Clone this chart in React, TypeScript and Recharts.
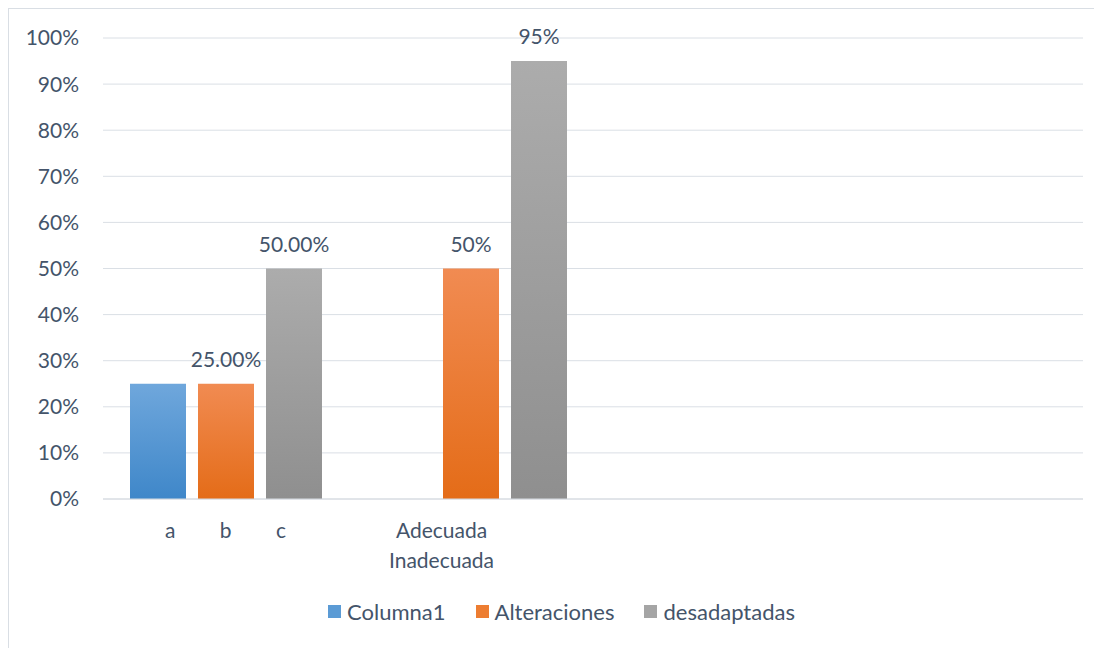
import { Bar, BarChart, CartesianGrid, LabelList, Legend, XAxis, YAxis } from "recharts";

const categories = ["a b c", "Adecuada\nInadecuada", "", " "];
const columna1 = [0.25, null, null, null];
const alteraciones = [0.25, 0.5, null, null];
const desadaptadas = [0.5, 0.95, null, null];
const alteracionesLabels = ["25.00%", "50%", "", ""];
const desadaptadasLabels = ["50.00%", "95%", "", ""];
const yTicks = [0, 0.1, 0.2, 0.3, 0.4, 0.5, 0.6, 0.7, 0.8, 0.9, 1];

const seriesNames = ["Columna1", "Alteraciones", "desadaptadas"];
const seriesColors = ["#5B9BD5", "#ED7D31", "#A5A5A5"];

const data = categories.map((name, i) => ({
  name,
  columna1: columna1[i],
  alteraciones: alteraciones[i],
  desadaptadas: desadaptadas[i],
  altLabel: alteracionesLabels[i],
  desLabel: desadaptadasLabels[i],
}));

const FONT = "Lato, 'Open Sans', sans-serif";
const TEXT = "#44546A";

// Excel shifted the wrapped label a bit left of the category centre
const labelShift: Record<string, number> = { "Adecuada\nInadecuada": -29 };

const CategoryTick = (props: any) => {
  const { x, y, payload } = props;
  const value: string = payload.value;
  const lines = value.split("\n");
  const cx = x + (labelShift[value] || 0);
  return (
    <text
      x={cx}
      y={y}
      textAnchor="middle"
      fill={TEXT}
      fontSize={21}
      fontFamily={FONT}
      style={{ wordSpacing: 39 }}
    >
      {lines.map((l, i) => (
        <tspan key={i} x={cx} dy={i === 0 ? 39 : 30}>
          {l}
        </tspan>
      ))}
    </text>
  );
};

const LegendContent = () => (
  <div
    style={{
      display: "flex",
      justifyContent: "center",
      alignItems: "center",
      height: 30,
      paddingLeft: 31,
      fontFamily: FONT,
      fontSize: 22,
      color: TEXT,
    }}
  >
    {seriesNames.map((n, i) => (
      <div key={n} style={{ display: "flex", alignItems: "center", marginRight: i < 2 ? 30 : 0 }}>
        <span style={{ width: 13, height: 13, background: seriesColors[i], marginRight: 6, display: "inline-block" }} />
        <span>{n}</span>
      </div>
    ))}
  </div>
);

const App = () => {
  return (
    <div style={{ borderTop: "1px solid #D9DEE4", borderLeft: "1px solid #D9DEE4", width: 1094, height: 640, background: "#fff" }}>
      <BarChart
        width={1093}
        height={639}
        data={data}
        margin={{ top: 29, right: 19, bottom: 22, left: 0 }}
        barGap={12}
        barSize={56}
      >
        <defs>
          <linearGradient id="gBlue" x1="0" y1="0" x2="0" y2="1">
            <stop offset="0%" stopColor="#6FA7DC" />
            <stop offset="100%" stopColor="#3F87C9" />
          </linearGradient>
          <linearGradient id="gOrange" x1="0" y1="0" x2="0" y2="1">
            <stop offset="0%" stopColor="#F18B52" />
            <stop offset="100%" stopColor="#E46C18" />
          </linearGradient>
          <linearGradient id="gGray" x1="0" y1="0" x2="0" y2="1">
            <stop offset="0%" stopColor="#ACACAC" />
            <stop offset="100%" stopColor="#8F8F8F" />
          </linearGradient>
        </defs>
        <CartesianGrid vertical={false} stroke="#DADFE5" />
        <XAxis
          dataKey="name"
          height={97}
          tickLine={false}
          tickSize={0}
          tickMargin={0}
          axisLine={{ stroke: "#D5DAE0" }}
          tick={<CategoryTick />}
          interval={0}
        />
        <YAxis
          domain={[0, 1]}
          ticks={yTicks}
          width={94}
          axisLine={false}
          tickLine={false}
          tickSize={0}
          tickMargin={24}
          tickFormatter={(v: number) => `${Math.round(v * 100)}%`}
          tick={{ fill: TEXT, fontSize: 21, fontFamily: FONT }}
        />
        <Legend verticalAlign="bottom" content={<LegendContent />} />
        <Bar dataKey="columna1" name="Columna1" fill="url(#gBlue)" isAnimationActive={false} />
        <Bar dataKey="alteraciones" name="Alteraciones" fill="url(#gOrange)" isAnimationActive={false}>
          <LabelList dataKey="altLabel" position="top" offset={17} fill={TEXT} fontSize={21} fontFamily={FONT} />
        </Bar>
        <Bar dataKey="desadaptadas" name="desadaptadas" fill="url(#gGray)" isAnimationActive={false}>
          <LabelList dataKey="desLabel" position="top" offset={17} fill={TEXT} fontSize={21} fontFamily={FONT} />
        </Bar>
      </BarChart>
    </div>
  );
};

export default App;
